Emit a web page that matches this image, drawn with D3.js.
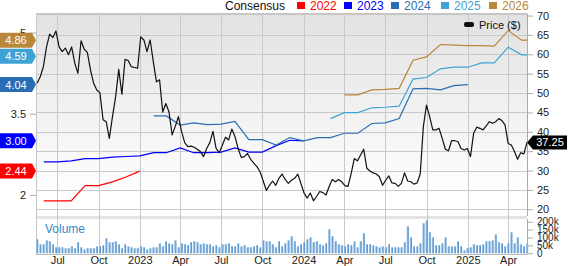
<!DOCTYPE html>
<html>
<head>
<meta charset="utf-8">
<script src="https://cdn.jsdelivr.net/npm/d3@7"></script>
<style>
  body { margin: 0; background: #fff; }
  svg { display: block; font-family: "Liberation Sans", Arial, sans-serif; }
  .axis text { fill: #222; font-size: 11px; }
  .axis line, .axis path { stroke: #aaa; }
  .axis.vol text { font-size: 10px; }
</style>
</head>
<body>
<svg id="chart" width="568" height="266"></svg>
<script>
// weekly closes, first week ending 2022-05-17
var priceStart = "2022-05-17";
var priceValues = [
  52.5, 54.2, 56.8, 61.9, 65.2, 64.3, 66.0, 61.9, 60.7, 61.6,
  59.9, 61.9, 57.7, 55.1, 63.5, 61.3, 60.5, 56.0, 52.5, 50.8,
  50.1, 43.1, 42.6, 38.3, 43.9, 49.0, 56.1, 49.7, 58.7, 58.4,
  56.8, 56.6, 56.4, 64.5, 63.7, 60.7, 63.7, 58.1, 52.9, 53.4,
  45.1, 47.3, 45.1, 39.2, 41.4, 43.9, 40.1, 37.2, 36.2, 36.3,
  36.0, 35.5, 34.9, 33.6, 35.7, 37.2, 40.1, 35.7, 34.6, 36.6,
  38.6, 37.9, 40.7, 38.8, 35.7, 33.4, 33.6, 34.4, 32.9, 31.9,
  31.0, 29.7, 27.3, 24.9, 26.2, 27.3, 26.2, 28.0, 29.1, 27.7,
  26.7, 27.5, 28.0, 29.1, 26.7, 24.2, 22.9, 24.2, 22.2, 23.3,
  24.6, 24.3, 23.7, 25.9, 27.7, 27.1, 27.7, 27.1, 26.1, 25.9,
  29.2, 33.1, 32.5, 34.0, 35.5, 30.6, 29.9, 29.4, 29.1, 28.4,
  26.2, 27.5, 28.6, 26.8, 26.7, 25.9, 26.7, 29.4, 27.3, 27.1,
  26.5, 26.8, 29.1, 41.4, 46.9, 43.9, 40.5, 40.5, 40.9, 38.3,
  35.5, 35.1, 37.7, 37.7, 37.5, 35.7, 35.3, 35.7, 33.6, 39.6,
  41.2, 40.9, 40.5, 41.5, 42.6, 42.2, 42.6, 43.4, 42.9, 41.8,
  37.0, 36.6, 34.9, 32.9, 34.6, 34.3, 37.25
];
// weekly volume, thousands of shares
var volumeValues = [
  89, 57, 57, 82, 76, 57, 38, 38, 38, 32,
  32, 44, 32, 70, 38, 25, 32, 32, 32, 44,
  44, 51, 95, 70, 70, 76, 57, 32, 57, 44,
  38, 32, 32, 44, 38, 25, 32, 38, 38, 63,
  44, 76, 63, 57, 82, 38, 63, 57, 51, 70,
  76, 70, 57, 63, 57, 57, 44, 51, 38, 57,
  57, 63, 44, 44, 63, 44, 51, 38, 38, 44,
  51, 38, 82, 76, 76, 57, 38, 76, 44, 63,
  82, 108, 76, 44, 57, 70, 89, 101, 70, 76,
  57, 51, 63, 152, 108, 76, 57, 51, 44, 57,
  51, 76, 38, 76, 127, 57, 57, 51, 44, 38,
  44, 38, 57, 38, 38, 38, 38, 70, 171, 101,
  44, 44, 63, 190, 209, 133, 101, 51, 51, 63,
  101, 44, 44, 44, 76, 44, 19, 32, 38, 57,
  51, 51, 57, 76, 76, 82, 120, 70, 63, 44,
  63, 133, 63, 101, 57, 44, 63
];

// consensus EPS by fiscal year (monthly)
var eps2022 = [
  ["2022-06-01", 1.89], ["2022-07-01", 1.89], ["2022-08-01", 1.89], ["2022-09-01", 2.17],
  ["2022-10-01", 2.17], ["2022-11-01", 2.24], ["2022-12-01", 2.33], ["2023-01-01", 2.44]
];
var eps2023 = [
  ["2022-06-01", 2.61], ["2022-07-01", 2.61], ["2022-08-01", 2.63], ["2022-09-01", 2.67],
  ["2022-10-01", 2.67], ["2022-11-01", 2.70], ["2022-12-01", 2.71], ["2023-01-01", 2.72],
  ["2023-02-01", 2.78], ["2023-03-01", 2.78], ["2023-04-01", 2.87], ["2023-05-01", 2.78],
  ["2023-06-01", 2.78], ["2023-07-01", 2.79], ["2023-08-01", 2.87], ["2023-09-01", 2.79],
  ["2023-10-01", 2.79], ["2023-11-01", 2.91], ["2023-12-01", 3.01], ["2024-01-01", 3.00]
];
var eps2024 = [
  ["2023-02-01", 3.46], ["2023-03-01", 3.46], ["2023-04-01", 3.29], ["2023-05-01", 3.33],
  ["2023-06-01", 3.30], ["2023-07-01", 3.31], ["2023-08-01", 3.36], ["2023-09-01", 3.02],
  ["2023-10-01", 3.02], ["2023-11-01", 2.92], ["2023-12-01", 3.06], ["2024-01-01", 3.00],
  ["2024-02-01", 3.06], ["2024-03-01", 3.06], ["2024-04-01", 3.14], ["2024-05-01", 3.14],
  ["2024-06-01", 3.32], ["2024-07-01", 3.33], ["2024-08-01", 3.41], ["2024-09-01", 3.96],
  ["2024-10-01", 3.97], ["2024-11-01", 3.94], ["2024-12-01", 4.02], ["2025-01-01", 4.04]
];
var eps2025 = [
  ["2024-03-01", 3.41], ["2024-04-01", 3.52], ["2024-05-01", 3.52], ["2024-06-01", 3.61],
  ["2024-07-01", 3.62], ["2024-08-01", 3.64], ["2024-09-01", 4.14], ["2024-10-01", 4.17],
  ["2024-11-01", 4.33], ["2024-12-01", 4.36], ["2025-01-01", 4.36], ["2025-02-01", 4.44],
  ["2025-03-01", 4.44], ["2025-04-01", 4.73], ["2025-05-01", 4.59], ["2025-05-13", 4.59]
];
var eps2026 = [
  ["2024-04-01", 3.85], ["2024-05-01", 3.85], ["2024-06-01", 3.94], ["2024-07-01", 3.95],
  ["2024-08-01", 3.97], ["2024-09-01", 4.49], ["2024-10-01", 4.55], ["2024-11-01", 4.78],
  ["2024-12-01", 4.77], ["2025-01-01", 4.76], ["2025-02-01", 4.76], ["2025-03-01", 4.75],
  ["2025-04-01", 5.04], ["2025-05-01", 4.86], ["2025-05-13", 4.86]
];

var seriesNames = ["2022", "2023", "2024", "2025", "2026"];
var seriesColors = ["#ff0000", "#0000ff", "#2a6db5", "#3ea3d4", "#b8873a"];
var seriesData = [eps2022, eps2023, eps2024, eps2025, eps2026];

var priceTicks = [20, 25, 30, 35, 40, 45, 50, 55, 60, 65, 70];
// the other EPS ticks sit under the value tags
var epsTicks = [2, 3.5, 5];
var volumeTicks = [0, 50, 100, 150, 200];

var parse = d3.timeParse("%Y-%m-%d");

var left = 36, right = 527,
  priceTop = 14, priceBottom = 216,
  volTop = 219, volBottom = 254;

var svg = d3.select("#chart");

var x = d3.scaleTime()
  .domain([parse("2022-05-15"), parse("2025-05-13")])
  .range([36.2, right]);
var yPrice = d3.scaleLinear().domain([20, 70]).range([209.3, 15.55]);
var yEps = d3.scaleLinear().domain([3, 5]).range([140.8, 32.6]);
var yVol = d3.scaleLinear().domain([0, 200]).range([volBottom - 0.7, 221.7]);

var start = parse(priceStart);
var prices = priceValues.map(function(v, i) {
  return { date: d3.timeDay.offset(start, 7 * i), value: v };
});
var volumes = volumeValues.map(function(v, i) {
  return { date: d3.timeDay.offset(start, 7 * i), value: v };
});

var defs = svg.append("defs");
var bg = defs.append("linearGradient").attr("id", "bg")
  .attr("x1", 0).attr("y1", 0).attr("x2", 0).attr("y2", 1);
bg.append("stop").attr("offset", "0%").attr("stop-color", "#e2e2e2");
bg.append("stop").attr("offset", "90%").attr("stop-color", "#ffffff");
var vg = defs.append("linearGradient").attr("id", "volfill")
  .attr("x1", 0).attr("y1", 0).attr("x2", 1).attr("y2", 0);
vg.append("stop").attr("offset", "0%").attr("stop-color", "#a9cbea");
vg.append("stop").attr("offset", "100%").attr("stop-color", "#3f86c8");

// panels
svg.append("rect").attr("x", left).attr("y", priceTop)
  .attr("width", right - left).attr("height", priceBottom - priceTop)
  .attr("fill", "url(#bg)");
svg.append("rect").attr("x", left).attr("y", priceBottom)
  .attr("width", right - left).attr("height", volTop - priceBottom)
  .attr("fill", "#e3e3e3");

// grid
svg.append("g").selectAll("line")
  .data(priceTicks.filter(function(d) { return d < 70; }))
  .enter().append("line")
  .attr("x1", left).attr("x2", right)
  .attr("y1", function(d) { return Math.round(yPrice(d)) + 0.5; })
  .attr("y2", function(d) { return Math.round(yPrice(d)) + 0.5; })
  .attr("stroke", "#c9c9c9");

var quarters = x.ticks(d3.timeMonth.every(3));
svg.append("g").selectAll("line")
  .data(quarters)
  .enter().append("line")
  .attr("x1", function(d) { return Math.round(x(d)) + 0.5; })
  .attr("x2", function(d) { return Math.round(x(d)) + 0.5; })
  .attr("y1", priceTop).attr("y2", volBottom)
  .attr("stroke", "#c9c9c9");

// frame
svg.append("line").attr("x1", left).attr("x2", right)
  .attr("y1", priceTop).attr("y2", priceTop)
  .attr("stroke", "#c6c6c6").attr("stroke-width", 2);
svg.append("line").attr("x1", left + 0.5).attr("x2", left + 0.5)
  .attr("y1", priceTop).attr("y2", volBottom).attr("stroke", "#c6c6c6");
svg.append("line").attr("x1", left).attr("x2", right)
  .attr("y1", volBottom + 0.5).attr("y2", volBottom + 0.5).attr("stroke", "#bbb");

// volume
svg.append("text").attr("x", 45).attr("y", 233)
  .attr("font-size", 12).attr("fill", "#3a86c6").text("Volume");

svg.append("g").selectAll("rect")
  .data(volumes)
  .enter().append("rect")
  .attr("x", function(d) { return x(d.date) - 1; })
  .attr("y", function(d) { return yVol(d.value); })
  .attr("width", 2.1)
  .attr("height", function(d) { return yVol(0) - yVol(d.value); })
  .attr("fill", "url(#volfill)");

// consensus lines
var epsLine = d3.line()
  .x(function(d) { return x(parse(d[0])); })
  .y(function(d) { return yEps(d[1]); });

seriesData.forEach(function(s, i) {
  svg.append("path").datum(s)
    .attr("d", epsLine)
    .attr("fill", "none")
    .attr("stroke", seriesColors[i])
    .attr("stroke-width", 1.2);
});

// price line
var priceLine = d3.line()
  .x(function(d) { return x(d.date); })
  .y(function(d) { return yPrice(d.value); });

svg.append("path").datum(prices)
  .attr("d", priceLine)
  .attr("fill", "none")
  .attr("stroke", "#111")
  .attr("stroke-width", 1.2)
  .attr("stroke-linejoin", "round");

// axes
var rightAxis = svg.append("g").attr("class", "axis")
  .attr("transform", "translate(" + right + ",0)")
  .call(d3.axisRight(yPrice).tickValues(priceTicks).tickSize(6).tickPadding(4));
rightAxis.select(".domain").attr("d", "M0.5," + priceTop + "V" + priceBottom);

var volAxis = svg.append("g").attr("class", "axis vol")
  .attr("transform", "translate(" + right + ",0)")
  .call(d3.axisRight(yVol).tickValues(volumeTicks).tickSize(6).tickPadding(4)
    .tickFormat(function(d) { return d ? d + "k" : "0"; }));
volAxis.select(".domain").attr("d", "M0.5," + volTop + "V" + volBottom);

var leftAxis = svg.append("g").attr("class", "axis")
  .attr("transform", "translate(" + left + ",0)")
  .call(d3.axisLeft(yEps).tickValues(epsTicks).tickSize(6).tickPadding(4)
    .tickFormat(function(d) { return d % 1 ? d3.format(".1f")(d) : d; }));
leftAxis.select(".domain").remove();

var bottomAxis = svg.append("g").attr("class", "axis")
  .attr("transform", "translate(0," + volBottom + ")")
  .call(d3.axisBottom(x).tickValues(quarters).tickSize(0).tickPadding(2)
    .tickFormat(function(d) {
      return d.getMonth() === 0 ? d3.timeFormat("%Y")(d) : d3.timeFormat("%b")(d);
    }));
bottomAxis.select(".domain").remove();

// top legend
var legend = svg.append("g").attr("font-size", 12);
legend.append("text").attr("x", 225).attr("y", 10).attr("fill", "#111").text("Consensus");
var legendX = [297, 344, 391, 441, 489];
seriesNames.forEach(function(name, i) {
  legend.append("rect").attr("x", legendX[i]).attr("y", 2)
    .attr("width", 8).attr("height", 7).attr("fill", seriesColors[i]);
  legend.append("text").attr("x", legendX[i] + 13).attr("y", 10)
    .attr("fill", seriesColors[i]).text(name);
});

// price legend
svg.append("rect").attr("x", 464).attr("y", 22).attr("width", 10).attr("height", 5)
  .attr("rx", 2).attr("fill", "#111");
svg.append("text").attr("x", 479).attr("y", 29).attr("font-size", 11)
  .attr("fill", "#111").text("Price ($)");

// current EPS labels on the left
var epsLabels = seriesData.map(function(s, i) {
  var v = s[s.length - 1][1];
  return { value: v, color: seriesColors[i], y: yEps(v) };
}).sort(function(a, b) { return a.y - b.y; });
for (var i = 1; i < epsLabels.length; i++) {
  if (epsLabels[i].y - epsLabels[i - 1].y < 16) epsLabels[i].y = epsLabels[i - 1].y + 16;
}
var tags = svg.append("g").selectAll("g")
  .data(epsLabels)
  .enter().append("g")
  .attr("transform", function(d) { return "translate(0," + d.y + ")"; });
tags.append("path")
  .attr("d", "M0,-7.5H32L36,0L32,7.5H0Z")
  .attr("fill", function(d) { return d.color; });
tags.append("text")
  .attr("x", 16).attr("y", 4).attr("text-anchor", "middle")
  .attr("font-size", 11).attr("fill", "#fff")
  .text(function(d) { return d3.format(".2f")(d.value); });

// last price tag
var last = prices[prices.length - 1];
var py = yPrice(last.value);
svg.append("path")
  .attr("d", "M" + right + "," + py + "L533," + (py - 7) + "H567V" + (py + 7) + "H533Z")
  .attr("fill", "#000");
svg.append("text").attr("x", 550).attr("y", py + 4).attr("text-anchor", "middle")
  .attr("font-size", 11).attr("fill", "#fff").text(d3.format(".2f")(last.value));
</script>
</body>
</html>
